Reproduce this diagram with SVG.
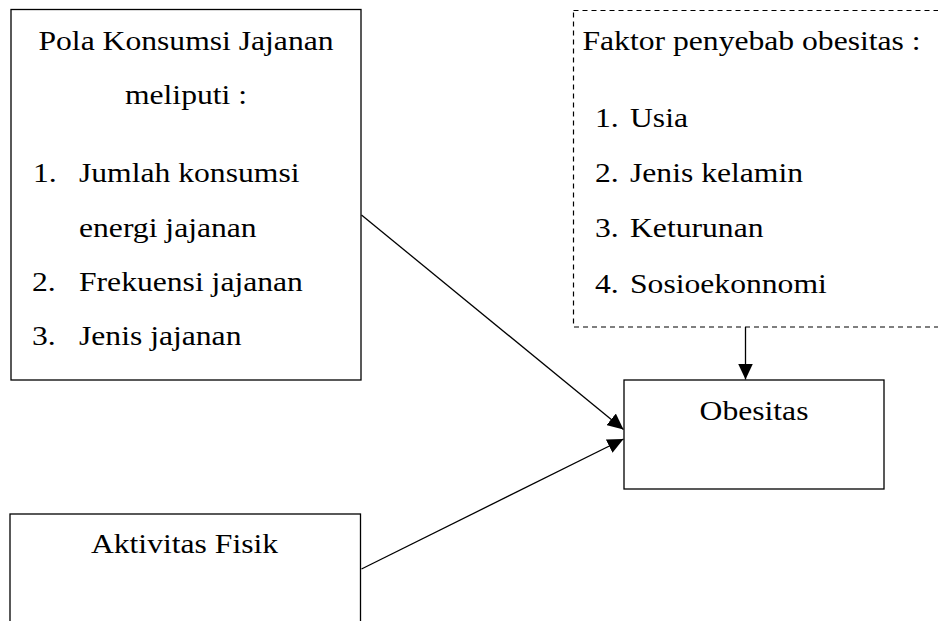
<svg xmlns="http://www.w3.org/2000/svg" width="938" height="621" viewBox="0 0 938 621">
  <style>
    .box { fill: #ffffff; stroke: #000000; stroke-width: 1.3; }
    .dash { fill: #ffffff; stroke: #000000; stroke-width: 1.2; stroke-dasharray: 5 4; }
    .conn { stroke: #000000; stroke-width: 1.3; fill: none; marker-end: url(#arrow); }
    text { font-family: "Liberation Serif", "Times New Roman", serif; font-size: 28px; fill: #000000; }
    .mid { text-anchor: middle; }
  </style>
  <defs>
    <marker id="arrow" markerUnits="userSpaceOnUse" markerWidth="16" markerHeight="15" refX="16" refY="7.5" orient="auto">
      <path d="M0,0 L16,7.5 L0,15 Z" fill="#000000"/>
    </marker>
  </defs>
  <rect width="938" height="621" fill="#ffffff"/>

  <g id="pola">
    <rect class="box" x="11" y="9.5" width="350" height="370.5"/>
    <text class="mid" transform="translate(186,50) scale(1.13,1)">Pola Konsumsi Jajanan</text>
    <text class="mid" transform="translate(186,104) scale(1.13,1)">meliputi :</text>
    <text transform="translate(33,182) scale(1.13,1)"><tspan x="0">1.</tspan><tspan x="40.7">Jumlah konsumsi</tspan></text>
    <text transform="translate(79,237) scale(1.13,1)">energi jajanan</text>
    <text transform="translate(32,291) scale(1.13,1)"><tspan x="0">2.</tspan><tspan x="41.6">Frekuensi jajanan</tspan></text>
    <text transform="translate(32,345) scale(1.13,1)"><tspan x="0">3.</tspan><tspan x="41.6">Jenis jajanan</tspan></text>
  </g>

  <g id="faktor">
    <rect class="dash" x="573.5" y="10.5" width="380" height="316.5"/>
    <text transform="translate(582.5,50) scale(1.13,1)">Faktor penyebab obesitas :</text>
    <text transform="translate(595,127) scale(1.13,1)"><tspan x="0">1.</tspan><tspan x="31">Usia</tspan></text>
    <text transform="translate(595,182) scale(1.13,1)"><tspan x="0">2.</tspan><tspan x="31">Jenis kelamin</tspan></text>
    <text transform="translate(595,237) scale(1.13,1)"><tspan x="0">3.</tspan><tspan x="31">Keturunan</tspan></text>
    <text transform="translate(595,293) scale(1.13,1)"><tspan x="0">4.</tspan><tspan x="31">Sosioekonnomi</tspan></text>
  </g>

  <g id="obesitas">
    <rect class="box" x="624" y="380" width="260" height="109"/>
    <text class="mid" transform="translate(754,420) scale(1.13,1)">Obesitas</text>
  </g>

  <g id="aktivitas">
    <rect class="box" x="10" y="514" width="350.5" height="120"/>
    <text class="mid" transform="translate(184.5,553) scale(1.13,1)">Aktivitas Fisik</text>
  </g>

  <g id="connectors">
    <line class="conn" x1="361.5" y1="215" x2="623.5" y2="429.5"/>
    <line class="conn" x1="361.5" y1="569" x2="623.5" y2="439"/>
    <line class="conn" x1="745.5" y1="327" x2="745.5" y2="379.5"/>
  </g>
</svg>
